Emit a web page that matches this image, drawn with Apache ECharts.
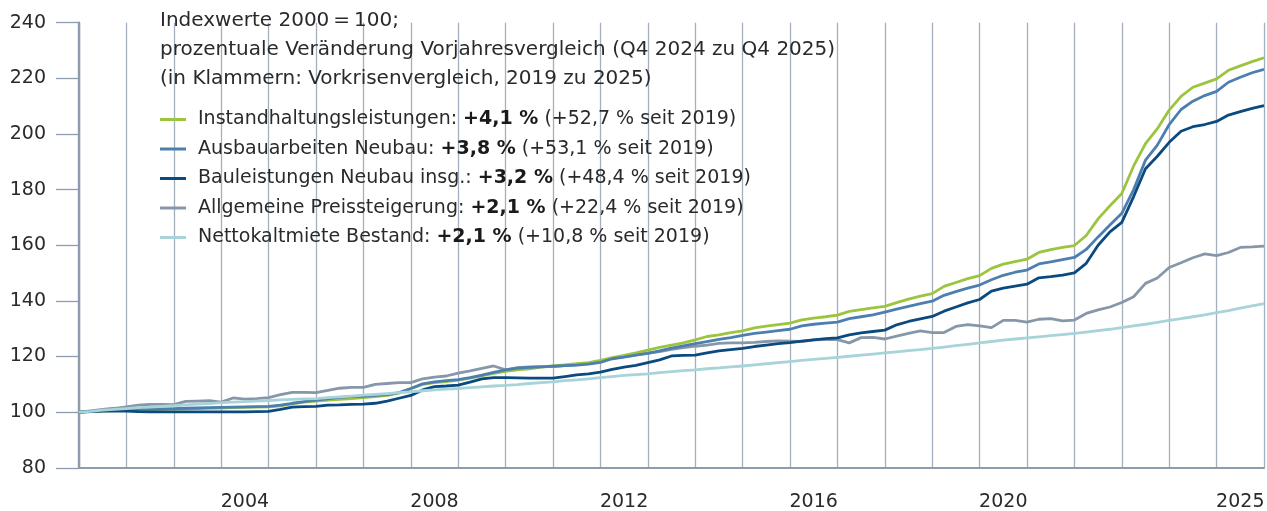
<!DOCTYPE html>
<html>
<head>
<meta charset="utf-8">
<script src="https://cdn.jsdelivr.net/npm/echarts@6/dist/echarts.min.js"></script>
<style>
html,body{margin:0;padding:0;background:#fff;}
#c{width:1267px;height:511px;}
</style>
</head>
<body>
<div id="c"></div>
<script>
// Quarter categories 2000Q4 .. 2025Q4
const quarters = ['2000Q4'];
for (let y = 2001; y <= 2025; y++) { for (let q = 1; q <= 4; q++) quarters.push(y + 'Q' + q); }

const tickQuarters = ['2004Q2','2008Q2','2012Q2','2016Q2','2020Q2','2025Q2'];
const tickTexts    = ['2004','2008','2012','2016','2020','2025'];

const instandhaltung = [
100.0,100.2,100.4,100.6,100.7,100.8,100.9,101.0,101.1,101.2,
101.3,101.4,101.5,101.6,101.7,101.8,101.9,102.3,103.0,103.6,
104.0,104.3,104.6,104.9,105.2,105.6,106.0,106.8,108.4,110.0,
110.6,111.0,111.5,112.2,113.0,113.9,114.7,115.2,115.6,116.2,
116.6,117.0,117.4,117.8,118.6,119.6,120.4,121.3,122.3,123.3,
124.1,124.9,126.0,127.2,127.8,128.6,129.2,130.3,130.9,131.5,
132.0,133.2,133.8,134.3,134.9,136.2,136.9,137.5,138.0,139.4,
140.6,141.7,142.6,145.2,146.6,148.0,149.1,151.7,153.2,154.1,
155.0,157.4,158.4,159.2,159.9,163.5,169.5,174.2,178.6,188.5,
196.5,201.9,208.6,213.5,216.8,218.3,219.8,222.9,224.5,226.0,
227.4];

const ausbau = [
100.0,100.3,100.6,100.8,100.9,101.0,101.1,101.2,101.3,101.4,
101.5,101.6,101.7,101.8,101.9,102.0,102.1,102.5,103.2,103.8,
104.3,104.8,105.3,105.6,105.7,106.0,106.3,107.0,108.5,110.2,
110.9,111.3,111.7,112.4,113.3,114.3,115.2,115.8,116.1,116.3,
116.5,116.7,116.9,117.3,117.9,119.2,119.8,120.5,121.1,122.0,
123.0,123.8,124.6,125.4,126.2,126.8,127.6,128.3,128.8,129.3,
129.8,131.0,131.6,132.0,132.4,133.6,134.3,135.0,136.0,137.0,
138.0,139.0,139.9,142.0,143.3,144.6,145.7,147.6,149.2,150.3,
151.1,153.3,154.0,154.8,155.6,158.5,163.0,167.3,171.5,180.0,
190.6,196.0,203.4,208.8,211.8,213.8,215.3,218.6,220.4,222.0,
223.2];

const bauleistungen = [
100.0,100.2,100.4,100.5,100.4,100.2,100.1,100.1,100.1,100.1,
100.1,100.1,100.1,100.1,100.1,100.2,100.3,101.0,101.8,102.0,
102.1,102.5,102.6,102.8,102.9,103.2,104.0,105.0,106.0,108.0,
109.2,109.4,109.7,110.8,112.0,112.4,112.4,112.3,112.2,112.2,
112.2,112.8,113.4,113.8,114.4,115.4,116.2,116.8,117.8,118.8,
120.2,120.4,120.5,121.3,122.0,122.5,122.9,123.6,124.1,124.6,
125.0,125.5,126.0,126.4,126.7,127.8,128.5,129.0,129.5,131.4,
132.6,133.5,134.4,136.3,137.8,139.3,140.5,143.5,144.6,145.3,
146.0,148.3,148.7,149.3,150.1,153.5,160.0,164.8,168.2,177.5,
187.5,192.0,197.0,201.0,202.6,203.4,204.5,206.8,208.0,209.2,
210.2];

const preissteigerung = [
100.0,100.5,101.0,101.4,101.9,102.5,102.8,102.8,102.7,103.9,
104.0,104.1,103.6,105.1,104.7,104.9,105.2,106.3,107.1,107.1,
107.0,107.8,108.6,108.9,108.9,110.0,110.3,110.6,110.6,112.0,
112.6,113.0,114.0,114.8,115.7,116.6,115.2,116.0,116.3,116.4,
116.4,116.7,117.0,117.6,118.2,119.3,120.0,120.6,121.2,121.8,
122.6,123.2,123.7,124.1,124.7,124.9,124.9,125.1,125.4,125.6,
125.5,125.4,126.0,126.1,126.1,124.9,126.8,126.9,126.3,127.3,
128.3,129.2,128.6,128.6,130.8,131.5,131.0,130.4,133.0,133.0,
132.4,133.4,133.6,132.8,133.1,135.5,136.8,137.8,139.4,141.5,
146.3,148.2,152.0,153.7,155.5,156.9,156.3,157.4,159.2,159.4,
159.7];

const nettokaltmiete = [
100.0,100.3,100.7,101.0,101.3,101.6,101.8,102.1,102.3,102.6,
102.9,103.1,103.4,103.6,103.8,104.0,104.2,104.4,104.6,104.8,
104.9,105.2,105.5,105.8,106.1,106.4,106.7,107.0,107.3,107.7,
108.0,108.3,108.5,108.8,109.1,109.4,109.6,109.9,110.3,110.6,
110.9,111.3,111.6,112.0,112.4,112.8,113.2,113.5,113.8,114.2,
114.6,114.9,115.2,115.6,115.9,116.3,116.6,117.0,117.4,117.8,
118.2,118.6,119.0,119.3,119.7,120.1,120.5,120.9,121.3,121.7,
122.1,122.5,122.9,123.4,123.9,124.4,124.9,125.4,125.9,126.3,
126.7,127.1,127.5,127.9,128.3,128.8,129.3,129.8,130.4,131.0,
131.6,132.3,133.0,133.6,134.3,135.0,135.8,136.5,137.4,138.2,
139.0];

const seriesNames = ['Instandhaltungsleistungen','Ausbauarbeiten Neubau','Bauleistungen Neubau insg.','Allgemeine Preissteigerung','Nettokaltmiete Bestand'];
const yoy   = ['+4,1 %','+3,8 %','+3,2 %','+2,1 %','+2,1 %'];
const since = ['(+52,7 % seit 2019)','(+53,1 % seit 2019)','(+48,4 % seit 2019)','(+22,4 % seit 2019)','(+10,8 % seit 2019)'];
const colors = ['#9cc43f','#4c7fb0','#0b4a7f','#8797aa','#a7d3d9'];

const FONT = 'DejaVu Sans';
const FS = 19;
const TXT = '#2a2a2a';
const AXIS = '#8d9cad';
const GRIDC = '#a3afbd';

const chart = echarts.init(document.getElementById('c'), null, {renderer:'canvas'});

function mk(i, data, z) {
  return {
    name: seriesNames[i], type: 'line', data: data, symbol: 'none', smooth: false,
    z: z, lineStyle: {color: colors[i], width: 2.8}, itemStyle: {color: colors[i]},
    emphasis: {disabled: true}
  };
}

chart.setOption({
  animation: false,
  title: {
    text: 'Indexwerte 2000\u2009=\u2009100;\nprozentuale Veränderung Vorjahresvergleich (Q4 2024 zu Q4 2025)\n(in Klammern: Vorkrisenvergleich, 2019 zu 2025)',
    left: 160, top: 6, padding: 0,
    textStyle: {fontFamily: FONT, fontSize: 20, fontWeight: 'normal', color: TXT, lineHeight: 29.3}
  },
  legend: {
    orient: 'vertical', left: 160, top: 110, padding: 0, itemGap: 10.5,
    itemWidth: 26, itemHeight: 3, icon: 'rect',
    data: seriesNames,
    formatter: function (name) {
      const i = seriesNames.indexOf(name);
      return '{s|}{n|' + name + ': }{b|' + yoy[i] + '}{n| ' + since[i] + '}';
    },
    textStyle: {
      fontFamily: FONT, fontSize: FS, color: TXT,
      rich: {
        s: {width: 7},
        n: {fontFamily: FONT, fontSize: FS, color: TXT},
        b: {fontFamily: FONT, fontSize: FS, color: '#1a1a1a', fontWeight: 'bold'}
      }
    },
    selectedMode: false
  },
  grid: {left: 79, right: 3, top: 22.7, bottom: 43.2, containLabel: false, outerBoundsMode: 'none'},
  xAxis: {
    type: 'category', data: quarters, boundaryGap: false,
    axisLine: {show: true, lineStyle: {color: AXIS, width: 2.2}},
    axisTick: {show: false},
    axisLabel: {
      interval: function (idx, val) { return tickQuarters.indexOf(val) >= 0; },
      formatter: function (val) { const k = tickQuarters.indexOf(val); return k >= 0 ? tickTexts[k] : ''; },
      fontFamily: FONT, fontSize: FS, color: TXT, margin: 25
    },
    splitLine: {
      show: true,
      interval: function (idx) { return idx % 4 === 0; },
      lineStyle: {color: GRIDC, width: 1.3}
    }
  },
  yAxis: {
    type: 'value', min: 80, max: 240, interval: 20,
    axisLine: {show: true, lineStyle: {color: AXIS, width: 2.4}},
    axisTick: {show: true, inside: false, length: 23, lineStyle: {color: AXIS, width: 1.3}},
    axisLabel: {fontFamily: FONT, fontSize: FS, color: TXT, margin: 33},
    splitLine: {show: false}
  },
  series: [
    mk(3, preissteigerung, 2),
    mk(0, instandhaltung, 3),
    mk(1, ausbau, 4),
    mk(2, bauleistungen, 5),
    mk(4, nettokaltmiete, 6)
  ]
});
</script>
</body>
</html>
